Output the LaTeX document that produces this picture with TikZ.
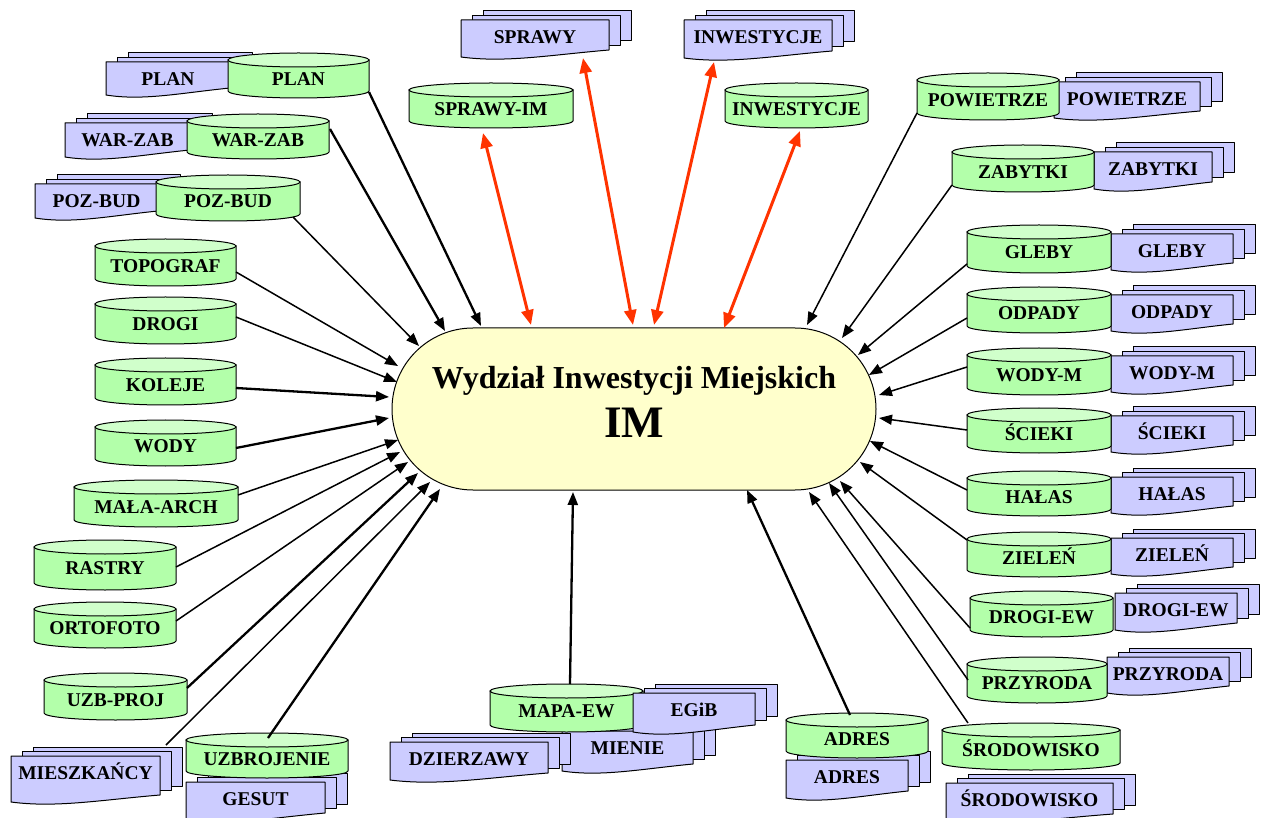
\documentclass[tikz,border=0pt]{standalone}
\usepackage{fontspec}
\setmainfont{Liberation Serif}
\usetikzlibrary{arrows.meta}

\definecolor{cylgreen}{RGB}{179,255,170}
\definecolor{cyllight}{RGB}{208,255,203}
\definecolor{doclav}{RGB}{204,204,255}
\definecolor{hubyellow}{RGB}{255,255,204}
\definecolor{linkred}{RGB}{255,51,0}

\tikzset{
  cylbody/.style={fill=cylgreen, draw=black, line width=1pt},
  cyltop/.style={fill=cyllight, draw=black, line width=1pt},
  docsheet/.style={fill=doclav, draw=black, line width=1pt, line join=round},
  lbl/.style={font=\bfseries\fontsize{19.5}{22}\selectfont, inner sep=0pt,
              text height=12.9pt, text depth=0pt},
  feed/.style={draw=black, line width=1.5pt, -{Triangle[length=13pt,width=10pt]}},
  feedthick/.style={feed, line width=2.3pt},
  link/.style={draw=linkred, line width=3pt,
               {Triangle[length=15pt,width=12pt]}-{Triangle[length=15pt,width=12pt]}},
}

% database cylinder: name, left, top, right, bottom, label  (px, y downwards)
\newcommand\dbcyl[6]{%
  \pgfmathsetmacro\dbX{(#2+#4)/2}%
  \pgfmathsetmacro\dbA{(#4-#2)/2}%
  \pgfmathsetmacro\dbT{#3+7}%
  \pgfmathsetmacro\dbB{#5-7}%
  \pgfmathsetmacro\dbY{(#3+7+#5)/2}%
  \filldraw[cylbody] (#2,\dbT) -- (#2,\dbB)
     arc[start angle=180, end angle=360, x radius=\dbA pt, y radius=7pt]
     -- (#4,\dbT) -- cycle;
  \filldraw[cyltop] (\dbX,\dbT) ellipse[x radius=\dbA pt, y radius=7pt];
  \node[lbl] (#1) at (\dbX,\dbY) {#6};
}

% stack of three documents: name, left, top, right, bottom (left end of wave), label
\newcommand\docstack[6]{%
  \filldraw[docsheet] (#2+22,#3-9) rectangle (#4+22,#5-16);
  \filldraw[docsheet] (#2+11,#3-4.5) rectangle (#4+11,#5-11.5);
  \filldraw[docsheet] (#2,#5) -- (#2,#3) -- (#4,#3) -- (#4,#5-7)
     .. controls ({#2+0.6*(#4-#2)},#5-2) and ({#2+0.3*(#4-#2)},#5+6) .. (#2,#5) -- cycle;
  \node[lbl] (#1) at ({(#2+#4)/2},#3+17) {#6};
}

% connector: style, name, start x, start y, end x, end y
\newcommand\feedline[6]{%
  \coordinate (#2-from) at (#3,#4);
  \coordinate (#2-to) at (#5,#6);
  \draw[#1] (#2-from) -- (#2-to);
}

\begin{document}
\begin{tikzpicture}[x=1pt, y=-1pt]
\fill[white] (0,0) rectangle (1270,818);
\useasboundingbox (0,0) rectangle (1270,818);

% central unit
\node[draw=black, line width=1pt, fill=hubyellow, rounded corners=81pt,
      minimum width=484pt, minimum height=162pt, inner sep=0pt] (hub) at (634,409) {};
\node[font=\bfseries\fontsize{32}{36}\selectfont, anchor=base, inner sep=0pt]
      (hubname) at (634,389) {Wydział Inwestycji Miejskich};
\node[font=\bfseries\fontsize{45}{50}\selectfont, anchor=base, inner sep=0pt]
      (hubcode) at (634,438) {IM};

% document stacks
\docstack{plandoc}{106}{62}{230}{95}{PLAN}
\docstack{warzabdoc}{65}{123}{190}{157}{WAR-ZAB}
\docstack{pozbuddoc}{35}{184}{158}{218}{POZ-BUD}
\docstack{sprawydoc}{461}{20}{609}{57}{SPRAWY}
\docstack{inwdoc}{684}{20}{832}{58}{INWESTYCJE}
\docstack{powdoc}{1054}{82}{1200}{118}{POWIETRZE}
\docstack{zabdoc}{1094}{152}{1212}{189}{ZABYTKI}
\docstack{glebydoc}{1111}{234}{1233}{270}{GLEBY}
\docstack{odpadydoc}{1111}{295}{1233}{331}{ODPADY}
\docstack{wodymdoc}{1111}{356}{1233}{392}{WODY-M}
\docstack{sciekidoc}{1111}{416}{1233}{452}{ŚCIEKI}
\docstack{halasdoc}{1111}{477}{1233}{513}{HAŁAS}
\docstack{zielendoc}{1111}{538}{1233}{574}{ZIELEŃ}
\docstack{drogiewdoc}{1115}{593}{1237}{630}{DROGI-EW}
\docstack{przyrodadoc}{1107}{657}{1229}{693}{PRZYRODA}
\docstack{mieszdoc}{11}{756}{160}{802}{MIESZKAŃCY}
\docstack{gesutdoc}{186}{782}{325}{820}{GESUT}
\docstack{mieniedoc}{562}{731}{693}{771}{MIENIE}
\docstack{dzierzdoc}{390}{742}{548}{780}{DZIERZAWY}
\docstack{adresdoc}{786}{760}{908}{798}{ADRES}
\docstack{srododoc}{946}{783}{1113}{821}{ŚRODOWISKO}

% databases
\dbcyl{sprawyim}{409}{83}{573}{128}{SPRAWY-IM}
\dbcyl{inwcyl}{725}{83}{868}{128}{INWESTYCJE}
\dbcyl{plan}{228}{53}{369}{98}{PLAN}
\dbcyl{warzab}{187}{114}{329}{159}{WAR-ZAB}
\dbcyl{pozbud}{156}{175}{300}{221}{POZ-BUD}
\dbcyl{topograf}{95}{239}{236}{286}{TOPOGRAF}
\dbcyl{drogi}{95}{297}{236}{344}{DROGI}
\dbcyl{koleje}{95}{358}{236}{405}{KOLEJE}
\dbcyl{wody}{95}{420}{236}{466}{WODY}
\dbcyl{malaarch}{74}{480}{238}{527}{MAŁA-ARCH}
\dbcyl{rastry}{34}{540}{176}{590}{RASTRY}
\dbcyl{ortofoto}{34}{602}{176}{648}{ORTOFOTO}
\dbcyl{uzbproj}{44}{673}{187}{720}{UZB-PROJ}
\dbcyl{uzbrojenie}{186}{733}{348}{778}{UZBROJENIE}
\dbcyl{mapaew}{490}{684}{643}{732}{MAPA-EW}
\dbcyl{adres}{786}{713}{928}{758}{ADRES}
\dbcyl{srodowisko}{942}{723}{1120}{770}{ŚRODOWISKO}
\dbcyl{powietrze}{917}{73}{1059}{120}{POWIETRZE}
\dbcyl{zabytki}{952}{145}{1094}{192}{ZABYTKI}
\dbcyl{gleby}{967}{225}{1111}{273}{GLEBY}
\dbcyl{odpady}{967}{287}{1111}{333}{ODPADY}
\dbcyl{wodym}{967}{348}{1111}{395}{WODY-M}
\dbcyl{scieki}{967}{408}{1111}{453}{ŚCIEKI}
\dbcyl{halas}{967}{471}{1111}{516}{HAŁAS}
\dbcyl{zielen}{967}{532}{1111}{577}{ZIELEŃ}
\dbcyl{drogiew}{970}{591}{1113}{637}{DROGI-EW}
\dbcyl{przyroda}{967}{657}{1107}{703}{PRZYRODA}

% EGiB stack lies over the MAPA-EW cylinder
\docstack{egibdoc}{633}{693}{755}{732}{EGiB}

% two-way links
\feedline{link}{lsprawyim}{483}{133}{531}{325}
\feedline{link}{lsprawy}{583}{58}{633}{325}
\feedline{link}{linwdoc}{714}{62}{654}{325}
\feedline{link}{linwcyl}{800}{131}{724}{328}

% inputs from the left
\feedline{feedthick}{fplan}{369}{92}{481}{326}
\feedline{feedthick}{fwarzab}{330}{129}{445}{331}
\feedline{feed}{fpozbud}{293}{217}{419}{346}
\feedline{feed}{ftopograf}{236}{272}{398}{366}
\feedline{feed}{fdrogi}{236}{317}{397}{382}
\feedline{feedthick}{fkoleje}{236}{388}{389}{397}
\feedline{feedthick}{fwody}{236}{448}{389}{418}
\feedline{feed}{fmalaarch}{238}{495}{398}{440}
\feedline{feed}{frastry}{176}{567}{400}{452}
\feedline{feed}{fortofoto}{176}{621}{408}{462}
\feedline{feedthick}{fuzbproj}{187}{688}{418}{473}
\feedline{feed}{fmiesz}{166}{745}{430}{482}
\feedline{feedthick}{fuzbrojenie}{268}{738}{440}{489}

% inputs from below
\feedline{feedthick}{fmapaew}{570}{684}{573}{492}
\feedline{feedthick}{fadres}{850}{715}{747}{490}
\feedline{feed}{fsrodowisko}{968}{723}{809}{492}

% inputs from the right
\feedline{feed}{fprzyroda}{968}{680}{829}{483}
\feedline{feed}{fdrogiew}{970}{628}{840}{481}
\feedline{feed}{fzielen}{967}{540}{860}{462}
\feedline{feed}{fhalas}{967}{490}{870}{441}
\feedline{feed}{fscieki}{967}{430}{879}{418}
\feedline{feed}{fwodym}{967}{367}{879}{395}
\feedline{feed}{fodpady}{967}{318}{869}{375}
\feedline{feed}{fgleby}{967}{264}{858}{355}
\feedline{feed}{fzabytki}{952}{185}{842}{338}
\feedline{feed}{fpowietrze}{917}{113}{807}{325}
\end{tikzpicture}
\end{document}
